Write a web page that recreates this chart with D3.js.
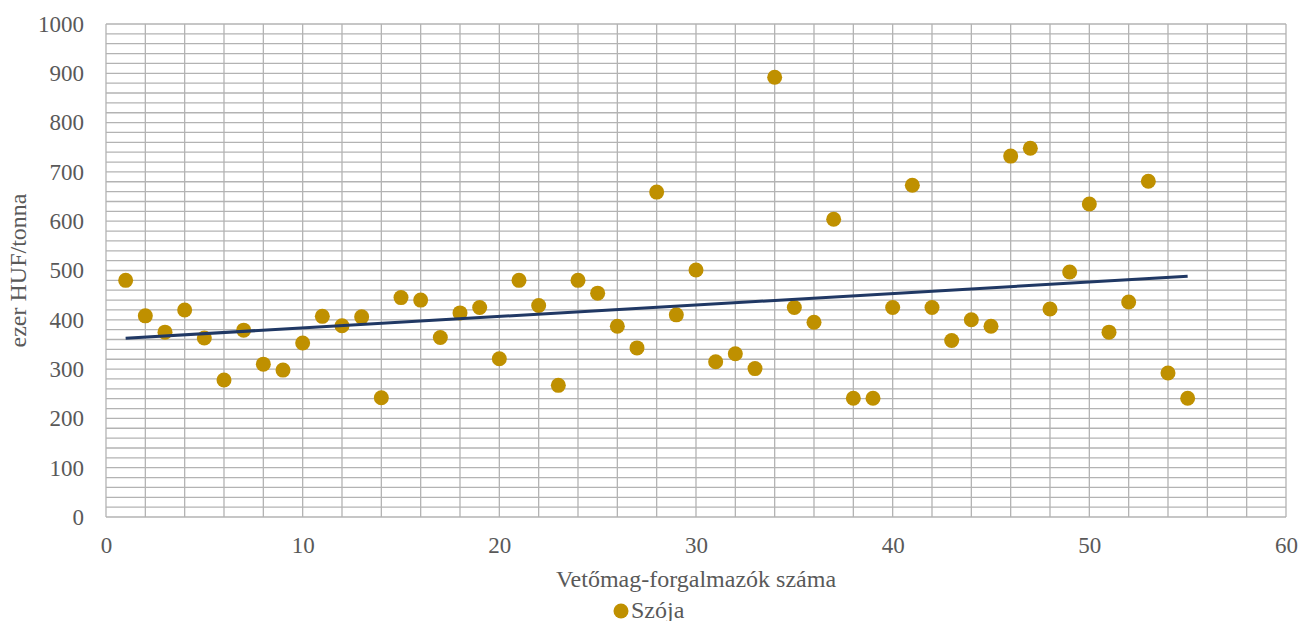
<!DOCTYPE html>
<html>
<head>
<meta charset="utf-8">
<script src="https://cdn.jsdelivr.net/npm/d3@7"></script>
<style>
  body { margin: 0; background: #fff; }
  svg text { font-family: "Liberation Serif", "Times New Roman", serif !important; fill: #595959; }
</style>
</head>
<body>
<div id="chart"></div>
<script>
// Szója: x = forgalmazó sorszáma, y = ezer HUF/tonna
var xValues = d3.range(1, 56);
var yValues = [480, 408, 375, 420, 363, 278, 379, 310, 298, 353,
               407, 388, 406, 242, 445, 440, 364, 414, 425, 321,
               480, 429, 267, 480, 454, 387, 343, 659, 410, 501,
               315, 331, 301, 892, 425, 395, 604, 241, 241, 425,
               673, 425, 358, 400, 387, 732, 748, 422, 497, 635,
               375, 436, 681, 292, 241];
var xTicks = [0, 10, 20, 30, 40, 50, 60];
var yTicks = [0, 100, 200, 300, 400, 500, 600, 700, 800, 900, 1000];
var seriesName = "Szója";
var xTitle = "Vetőmag-forgalmazók száma";
var yTitle = "ezer HUF/tonna";

var data = xValues.map(function(x, i) { return {x: x, y: yValues[i]}; });

var width = 1299, height = 621;
var margin = {top: 24, right: 13, bottom: 104, left: 106};
var serif = '"Liberation Serif", "Times New Roman", serif';

var svg = d3.select("#chart").append("svg")
    .attr("width", width)
    .attr("height", height);

var x = d3.scaleLinear().domain([0, 60]).range([margin.left, width - margin.right]);
var y = d3.scaleLinear().domain([0, 1000]).range([height - margin.bottom, margin.top]);

// gridlines
var grid = svg.append("g");
grid.selectAll(".hgrid")
    .data(d3.range(0, 1001, 20))
    .enter().append("line")
    .attr("x1", x(0)).attr("x2", x(60))
    .attr("y1", function(d) { return y(d); })
    .attr("y2", function(d) { return y(d); })
    .style("stroke", "#b3b3b3")
    .style("stroke-width", 1.3);
grid.selectAll(".vgrid")
    .data(d3.range(0, 61, 2))
    .enter().append("line")
    .attr("y1", y(0)).attr("y2", y(1000))
    .attr("x1", function(d) { return x(d); })
    .attr("x2", function(d) { return x(d); })
    .style("stroke", "#b3b3b3")
    .style("stroke-width", 1.3);

// axes
var xAxis = svg.append("g")
    .attr("transform", "translate(0," + (height - margin.bottom) + ")")
    .call(d3.axisBottom(x).tickValues(xTicks).tickFormat(d3.format("d")).tickSize(0).tickPadding(20));
var yAxis = svg.append("g")
    .attr("transform", "translate(" + margin.left + ",0)")
    .call(d3.axisLeft(y).tickValues(yTicks).tickFormat(d3.format("d")).tickSize(0).tickPadding(22));
[xAxis, yAxis].forEach(function(a) {
    a.attr("font-family", serif).attr("font-size", 23);
    a.select(".domain").remove();
    a.selectAll("text").attr("fill", "#595959");
});

// points
svg.selectAll(".dot")
    .data(data)
    .enter().append("circle")
    .attr("class", "dot")
    .attr("cx", function(d) { return x(d.x); })
    .attr("cy", function(d) { return y(d.y); })
    .attr("r", 7.5)
    .attr("fill", "#bf9000");

// linear trend line
var mx = d3.mean(data, function(d) { return d.x; });
var my = d3.mean(data, function(d) { return d.y; });
var slope = d3.sum(data, function(d) { return (d.x - mx) * (d.y - my); }) /
            d3.sum(data, function(d) { return (d.x - mx) * (d.x - mx); });
var icpt = my - slope * mx;
var x0 = d3.min(xValues), x1 = d3.max(xValues);
svg.append("line")
    .attr("x1", x(x0)).attr("y1", y(icpt + slope * x0))
    .attr("x2", x(x1)).attr("y2", y(icpt + slope * x1))
    .style("stroke", "#203864")
    .style("stroke-width", 3);

// titles
svg.append("text")
    .attr("x", x(30))
    .attr("y", 587)
    .attr("text-anchor", "middle")
    .attr("font-family", serif)
    .style("font-size", "24px")
    .text(xTitle);
svg.append("text")
    .attr("transform", "translate(26," + y(500) + ") rotate(-90)")
    .attr("text-anchor", "middle")
    .attr("font-family", serif)
    .style("font-size", "24px")
    .text(yTitle);

// legend
var legend = svg.append("g").attr("transform", "translate(621,611)");
legend.append("circle").attr("r", 7.5).attr("fill", "#bf9000");
legend.append("text")
    .attr("x", 10)
    .attr("y", 7)
    .attr("font-family", serif)
    .style("font-size", "24px")
    .text(seriesName);
</script>
</body>
</html>
